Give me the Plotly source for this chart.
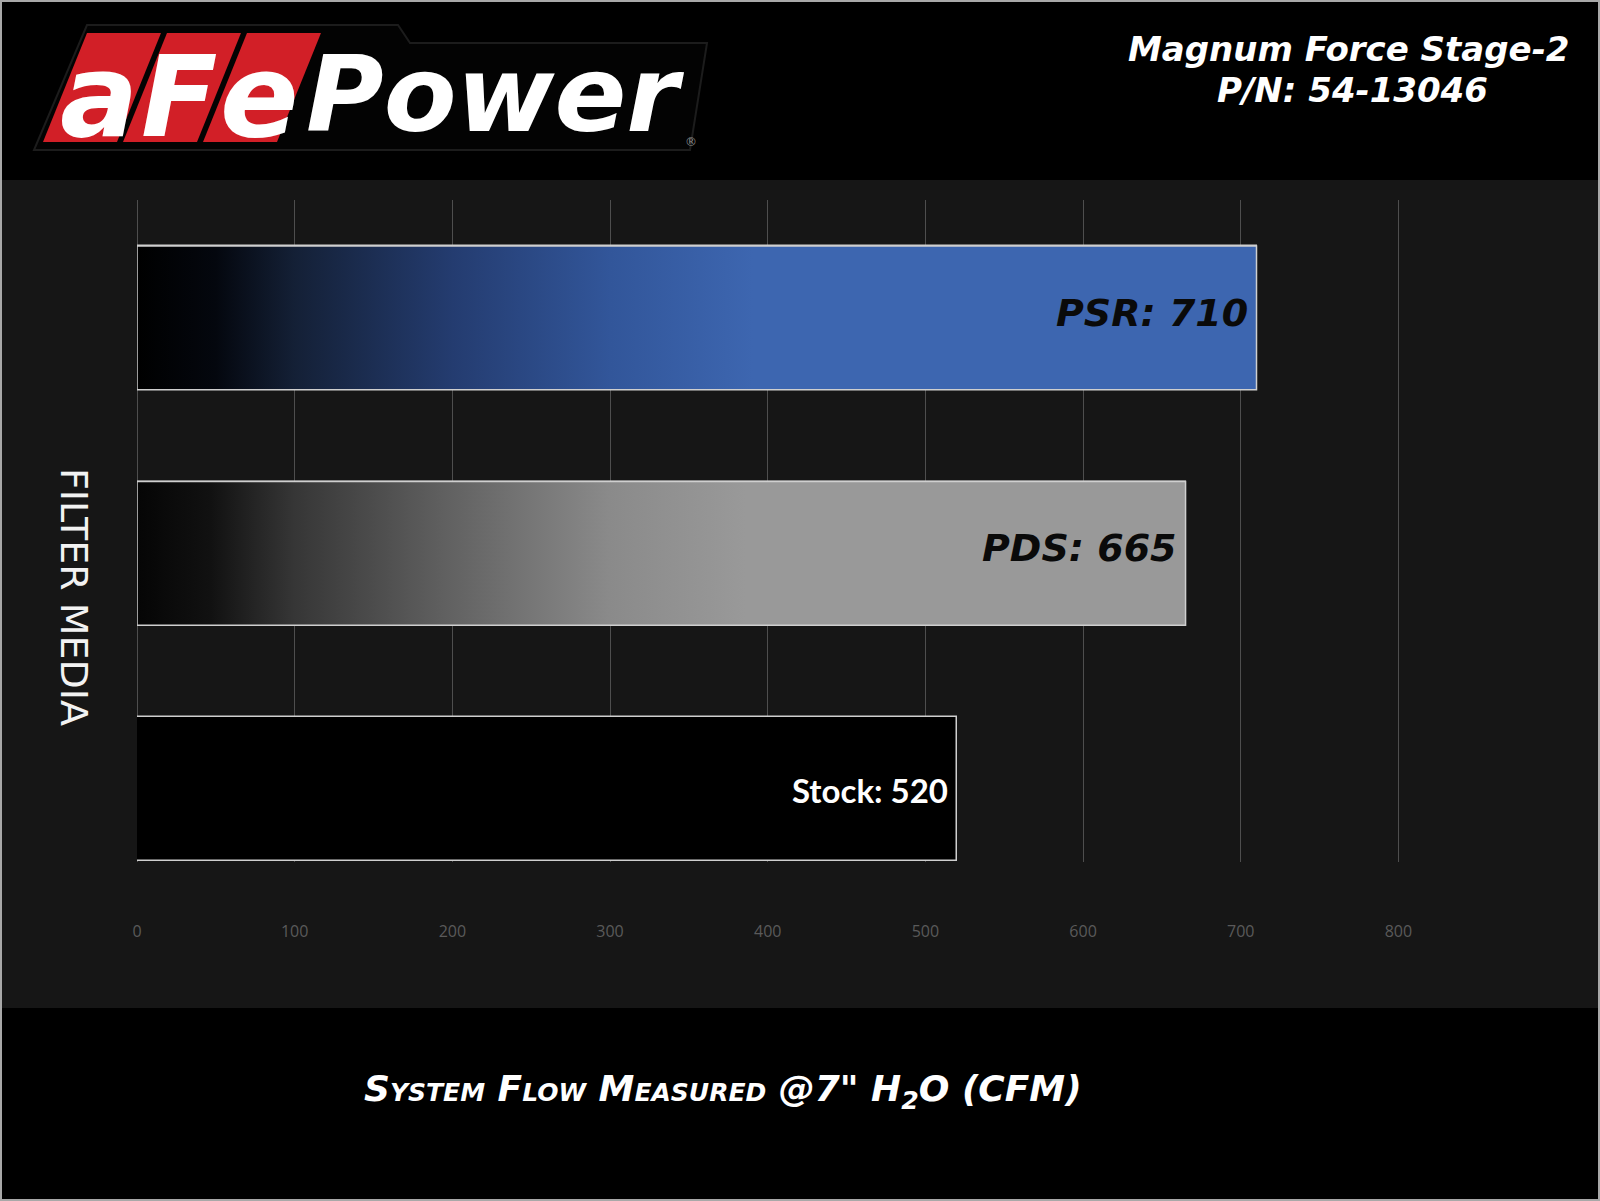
import plotly.graph_objects as go

# ---------------- data ----------------
categories = ["Stock", "PDS", "PSR"]
values = [520, 665, 710]
bar_labels = ["Stock: 520", "PDS: 665", "PSR: 710"]
x_ticks = [0, 100, 200, 300, 400, 500, 600, 700, 800]
title_lines = ["Magnum Force Stage-2", "P/N: 54-13046"]
x_title = 'System Flow Measured @7" H<sub>2</sub>O (CFM)'
y_title = "FILTER MEDIA"
logo_letters = ["a", "F", "e"]
logo_word = "Power"

# ---------------- styles ----------------
bar_fill = ["#000000", "#999999", "#3d66b0"]
bar_grad = [
    None,
    [[0, "#050505"], [0.07, "#111111"], [0.15, "#363636"], [0.30, "#626262"], [0.45, "#8a8a8a"], [0.58, "#999999"], [1, "#999999"]],
    [[0, "#000000"], [0.07, "#04070e"], [0.141, "#142036"], [0.282, "#243c70"], [0.423, "#32569a"], [0.55, "#3d66b0"], [1, "#3d66b0"]],
]
label_fonts = [
    dict(family="Lato", size=33, color="#ffffff", weight="bold"),
    dict(family="DejaVu Sans", size=38, color="#0a0a0a", weight="bold", style="italic"),
    dict(family="DejaVu Sans", size=38, color="#0a0a0a", weight="bold", style="italic"),
]
label_yshift = [-1, 5, 5]
outline = "#cfcfcf"
bar_width = 0.61

FIG_W, FIG_H = 1600, 1201
ML, MR, MT, MB = 137, 200, 200, 339
PW = FIG_W - ML - MR
PH = FIG_H - MT - MB
PB = FIG_H - MB


def px(x):
    return (x - ML) / PW


def py(y):
    return (PB - y) / PH


def path(points):
    return "M " + " L ".join(f"{px(a):.5f},{py(b):.5f}" for a, b in points) + " Z"


fig = go.Figure()

ypos = list(range(len(categories)))

fig.add_trace(go.Bar(
    x=values, y=ypos, orientation="h", width=bar_width,
    marker=dict(color=bar_fill, line=dict(color=outline, width=1.5)),
    hoverinfo="skip", showlegend=False, name="Filter media",
))

hw = bar_width / 2
for i, v in enumerate(values):
    if bar_grad[i] is None:
        continue
    fig.add_trace(go.Scatter(
        x=[0, v, v, 0, 0], y=[i - hw, i - hw, i + hw, i + hw, i - hw],
        mode="lines", fill="toself",
        fillgradient=dict(type="horizontal", colorscale=bar_grad[i]),
        line=dict(color=outline, width=1.5),
        hoverinfo="skip", showlegend=False, name=categories[i],
    ))

annotations = []
for i, (v, t) in enumerate(zip(values, bar_labels)):
    annotations.append(dict(
        x=v, y=i, xref="x", yref="y", text=t, showarrow=False,
        xanchor="right", yanchor="middle", xshift=-7, yshift=label_yshift[i],
        font=label_fonts[i],
    ))

# titles
title_font = dict(family="DejaVu Sans", size=34, color="#ffffff", weight="bold", style="italic")
annotations.append(dict(x=px(1348), y=py(49), xref="paper", yref="paper", text=title_lines[0],
                        showarrow=False, xanchor="center", yanchor="middle", font=title_font))
annotations.append(dict(x=px(1352), y=py(90), xref="paper", yref="paper", text=title_lines[1],
                        showarrow=False, xanchor="center", yanchor="middle", font=title_font))
annotations.append(dict(x=px(723), y=py(1091), xref="paper", yref="paper", text=x_title,
                        showarrow=False, xanchor="center", yanchor="middle",
                        font=dict(family="DejaVu Sans", size=36, color="#ffffff", weight="bold",
                                  style="italic", variant="small-caps")))
annotations.append(dict(x=px(74), y=py(597), xref="paper", yref="paper", text=y_title,
                        showarrow=False, xanchor="center", yanchor="middle", textangle=90,
                        font=dict(family="DejaVu Sans", size=38, color="#f2f2f2")))

# background band and logo
shapes = []
shapes.append(dict(type="rect", xref="paper", yref="paper", x0=px(0), x1=px(FIG_W), y0=py(180), y1=py(1008),
                   fillcolor="#161616", line=dict(width=0), layer="below"))
shapes.append(dict(type="path", xref="paper", yref="paper",
                   path=path([(87, 25), (398, 25), (410, 43), (707, 43), (690, 150), (34, 150)]),
                   fillcolor="#030303", line=dict(color="#1c1c1c", width=2), layer="above"))
for k, letter in enumerate(logo_letters):
    x0 = 87 + 80 * k
    shapes.append(dict(type="path", xref="paper", yref="paper",
                       path=path([(x0, 33), (x0 + 74, 33), (x0 + 30, 142), (x0 - 44, 142)]),
                       fillcolor="#d21f27", line=dict(width=0), layer="above"))
    size = 112 if letter == "F" else 116
    annotations.append(dict(x=px(x0 + 12), y=py(136 - 0.346 * size), xref="paper", yref="paper", text=letter,
                            showarrow=False, xanchor="center", yanchor="middle",
                            font=dict(family="DejaVu Sans", size=size, color="#ffffff", weight="bold", style="italic")))
annotations.append(dict(x=px(304), y=py(131 - 0.346 * 106), xref="paper", yref="paper", text=logo_word,
                        showarrow=False, xanchor="left", yanchor="middle",
                        font=dict(family="DejaVu Sans", size=106, color="#ffffff", weight="bold", style="italic")))
annotations.append(dict(x=px(691), y=py(142), xref="paper", yref="paper", text="®",
                        showarrow=False, xanchor="center", yanchor="middle",
                        font=dict(family="DejaVu Sans", size=12, color="#8a8a8a")))

# frame
shapes.append(dict(type="rect", xref="paper", yref="paper", x0=px(1), x1=px(FIG_W - 1), y0=py(1), y1=py(FIG_H - 1),
                   line=dict(color="#a8a8a8", width=2), fillcolor="rgba(0,0,0,0)", layer="above"))

fig.update_layout(
    width=FIG_W, height=FIG_H, autosize=False,
    margin=dict(l=ML, r=MR, t=MT, b=MB, pad=0),
    paper_bgcolor="#000000", plot_bgcolor="rgba(0,0,0,0)",
    showlegend=False, bargap=0,
    annotations=annotations, shapes=shapes,
    xaxis=dict(range=[0, 801], tickvals=x_ticks, showgrid=True, gridcolor="#4e4e4e", gridwidth=1,
               zeroline=True, zerolinecolor="#4e4e4e", zerolinewidth=1, showline=False, ticks="",
               tickfont=dict(family="Open Sans", size=16, color="#5a5a5a"), ticklabelstandoff=58,
               fixedrange=True),
    yaxis=dict(range=[-0.31, 2.5], tickvals=ypos, ticktext=categories, showticklabels=False,
               showgrid=False, zeroline=False, showline=False, ticks="", fixedrange=True),
)

fig.write_html("out.html", post_script="document.body.style.margin='0px';",
               config=dict(displayModeBar=False))
